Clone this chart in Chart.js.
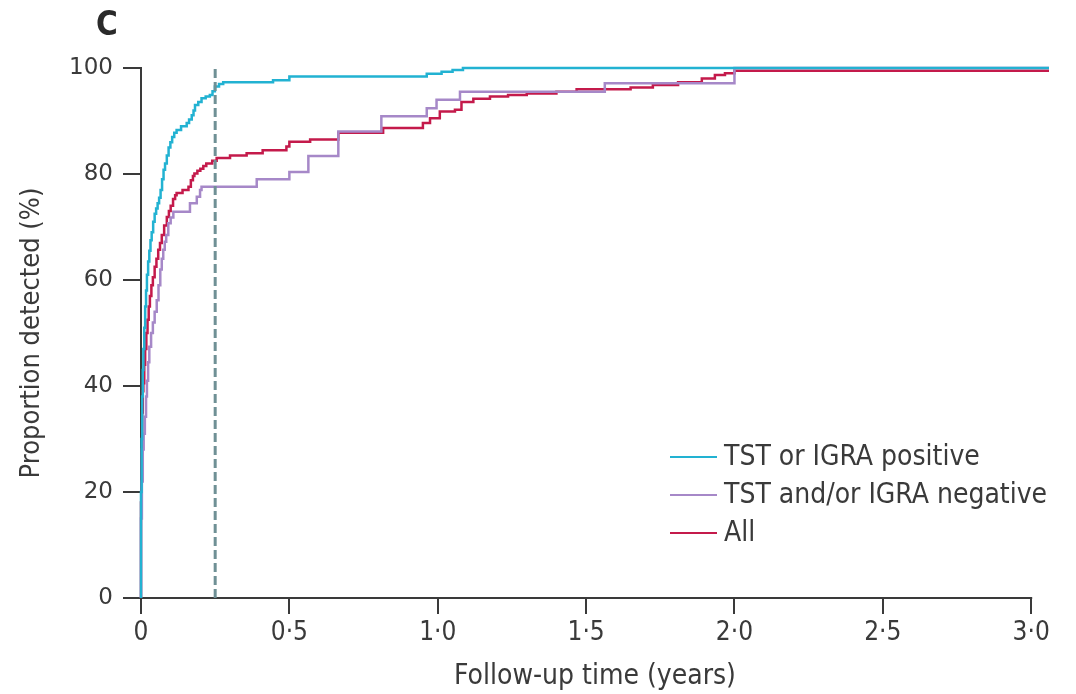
<!DOCTYPE html>
<html>
<head>
<meta charset="utf-8">
<script src="https://cdn.jsdelivr.net/npm/chart.js@4.4.1/dist/chart.umd.min.js"></script>
<style>
    html, body { margin: 0; padding: 0; background: #fff; }
    canvas { display: block; }
</style>
</head>
<body>
<canvas id="detection-chart" width="1076" height="694"></canvas>
<script>
// Cumulative proportion of cases detected over follow-up
const seriesLabels = ['TST or IGRA positive', 'TST and/or IGRA negative', 'All'];
const seriesColors = ['#22b2d2', '#a688c8', '#c41a4b'];

const positiveTimes  = [0, 0, 0.002, 0.004, 0.006, 0.008, 0.011, 0.014, 0.017, 0.020, 0.024, 0.028, 0.032, 0.036, 0.041, 0.046, 0.051, 0.056, 0.061, 0.066, 0.071, 0.076, 0.081, 0.087, 0.093, 0.099, 0.105, 0.112, 0.120, 0.135, 0.154, 0.162, 0.171, 0.177, 0.182, 0.193, 0.204, 0.218, 0.232, 0.241, 0.249, 0.263, 0.277, 0.445, 0.500, 0.963, 1.013, 1.050, 1.085, 3.060];
const positiveValues = [0, 20, 30, 38, 43, 47, 51, 55, 58, 61, 63.5, 65.5, 67.5, 69, 71, 72.5, 73.5, 74.5, 75.5, 77, 79, 80.8, 82, 83.5, 85, 86, 87, 87.8, 88.3, 89, 89.6, 90.3, 91.1, 92, 93, 93.6, 94.3, 94.6, 94.9, 95.6, 96.5, 97, 97.3, 97.7, 98.4, 98.9, 99.3, 99.6, 100, 100];

const negativeTimes  = [0, 0, 0.003, 0.006, 0.009, 0.013, 0.017, 0.020, 0.024, 0.028, 0.034, 0.040, 0.046, 0.053, 0.059, 0.065, 0.070, 0.075, 0.080, 0.085, 0.092, 0.100, 0.109, 0.165, 0.188, 0.199, 0.204, 0.390, 0.500, 0.564, 0.665, 0.810, 0.963, 0.996, 1.075, 1.563, 2.000, 3.060];
const negativeValues = [0, 15, 22, 28, 31, 34.2, 38, 41, 44.5, 47.4, 50, 52, 54, 56.2, 59, 62, 64, 65.7, 67.2, 68.5, 70.7, 71.8, 72.9, 74.5, 75.7, 77, 77.6, 79, 80.4, 83.4, 88, 90.9, 92.4, 94, 95.5, 97.1, 100, 100];

const allTimes  = [0, 0, 0.002, 0.004, 0.006, 0.008, 0.011, 0.014, 0.018, 0.022, 0.026, 0.030, 0.035, 0.040, 0.046, 0.052, 0.058, 0.064, 0.070, 0.078, 0.087, 0.094, 0.100, 0.108, 0.115, 0.120, 0.140, 0.160, 0.168, 0.175, 0.180, 0.190, 0.200, 0.210, 0.220, 0.240, 0.255, 0.300, 0.356, 0.410, 0.490, 0.500, 0.570, 0.665, 0.816, 0.950, 0.974, 1.007, 1.058, 1.080, 1.120, 1.176, 1.237, 1.300, 1.400, 1.468, 1.650, 1.725, 1.810, 1.890, 1.934, 1.968, 2.000, 3.060];
const allValues = [0, 18, 28, 35, 39, 40.5, 44, 47, 50, 52.5, 55, 57, 59, 60.5, 62.5, 64, 65.7, 67, 68.5, 70.3, 71.9, 73, 74, 75.3, 76, 76.4, 77, 77.6, 78.8, 79.6, 80.1, 80.6, 81, 81.5, 82, 82.5, 83, 83.5, 83.9, 84.5, 85.2, 86.1, 86.5, 87.8, 88.7, 89.6, 90.5, 91.8, 92.1, 93.6, 94.2, 94.6, 94.9, 95.2, 95.5, 96, 96.3, 96.8, 97.3, 98, 98.7, 99, 99.5, 99.5];

// 3-month mark (dashed reference line)
const cutoffTime = 0.25;
const cutoffRange = [0, 100];

const xTickValues = [0, 0.5, 1, 1.5, 2, 2.5, 3];
const xTickLabels = ['0', '0·5', '1·0', '1·5', '2·0', '2·5', '3·0'];
const yTickValues = [0, 20, 40, 60, 80, 100];
const yTickLabels = ['0', '20', '40', '60', '80', '100'];
const xMax = 3.06;

const axisColor = '#3a3a3a';
const textColor = '#3a3a3a';
const condensed = '"DejaVu Sans Condensed", "DejaVu Sans", sans-serif';

function toPoints(times, values) {
    return times.map((t, i) => ({ x: t, y: values[i] }));
}

function curve(label, color, times, values) {
    return {
        label: label,
        data: toPoints(times, values),
        borderColor: color,
        backgroundColor: color,
        borderWidth: 2.5,
        stepped: 'before',
        pointRadius: 0,
        clip: false,
        inLegend: true
    };
}

// x axis line only runs from 0 to 3·0, not to the end of the curves
const xAxisLine = {
    id: 'xAxisLine',
    beforeDatasetsDraw(chart) {
        const x = chart.scales.x, y = chart.scales.y;
        const ctx = chart.ctx;
        ctx.save();
        ctx.strokeStyle = axisColor;
        ctx.lineWidth = 2;
        ctx.beginPath();
        ctx.moveTo(x.getPixelForValue(0) - 1, y.getPixelForValue(0));
        ctx.lineTo(x.getPixelForValue(xTickValues[xTickValues.length - 1]) + 1, y.getPixelForValue(0));
        ctx.stroke();
        ctx.restore();
    }
};

// Legend inside the plot, bottom right
const insideLegend = {
    id: 'insideLegend',
    afterDraw(chart) {
        const ctx = chart.ctx;
        const items = chart.data.datasets.filter(d => d.inLegend);
        ctx.save();
        ctx.font = '28px ' + condensed;
        ctx.textBaseline = 'middle';
        ctx.textAlign = 'left';
        items.forEach((d, i) => {
            const yy = 457 + i * 38;
            ctx.strokeStyle = d.borderColor;
            ctx.lineWidth = 2;
            ctx.beginPath();
            ctx.moveTo(670, yy);
            ctx.lineTo(717, yy);
            ctx.stroke();
            ctx.fillStyle = textColor;
            ctx.fillText(d.label, 724, yy + 1);
        });
        // panel letter
        ctx.font = 'bold 33px ' + condensed;
        ctx.fillStyle = '#2a2a2a';
        ctx.textBaseline = 'alphabetic';
        ctx.fillText('C', 96, 35);
        ctx.restore();
    }
};

const ctx = document.getElementById('detection-chart').getContext('2d');

new Chart(ctx, {
    type: 'line',
    data: {
        datasets: [
            {
                label: 'cutoff',
                data: cutoffRange.map(v => ({ x: cutoffTime, y: v })),
                borderColor: '#6f9095',
                borderWidth: 3,
                borderDash: [9, 4],
                pointRadius: 0,
                clip: false
            },
            curve(seriesLabels[0], seriesColors[0], positiveTimes, positiveValues),
            curve(seriesLabels[1], seriesColors[1], negativeTimes, negativeValues),
            curve(seriesLabels[2], seriesColors[2], allTimes, allValues)
        ]
    },
    options: {
        responsive: false,
        animation: false,
        devicePixelRatio: 1,
        layout: {
            padding: { top: 68, right: 27, bottom: 0, left: 0 }
        },
        plugins: {
            legend: { display: false },
            tooltip: { enabled: false }
        },
        scales: {
            x: {
                type: 'linear',
                min: 0,
                max: xMax,
                afterBuildTicks: scale => {
                    scale.ticks = xTickValues.map(v => ({ value: v }));
                },
                afterFit: scale => {
                    scale.height = 96;
                },
                border: { display: false },
                grid: {
                    drawOnChartArea: false,
                    drawTicks: true,
                    tickLength: 16,
                    lineWidth: 2,
                    color: axisColor
                },
                ticks: {
                    autoSkip: false,
                    maxRotation: 0,
                    padding: 4,
                    color: textColor,
                    font: { family: condensed, size: 26 },
                    callback: value => xTickLabels[xTickValues.indexOf(value)]
                },
                title: {
                    display: true,
                    text: 'Follow-up time (years)',
                    color: textColor,
                    font: { family: condensed, size: 28 },
                    padding: { top: 0, bottom: 0 }
                }
            },
            y: {
                min: 0,
                max: 100,
                afterBuildTicks: scale => {
                    scale.ticks = yTickValues.map(v => ({ value: v }));
                },
                afterFit: scale => {
                    scale.width = 141;
                },
                border: { display: true, color: axisColor, width: 2 },
                grid: {
                    drawOnChartArea: false,
                    drawTicks: true,
                    tickLength: 18,
                    lineWidth: 2,
                    color: axisColor
                },
                ticks: {
                    padding: 10,
                    color: textColor,
                    font: { family: '"DejaVu Sans", sans-serif', size: 23 },
                    callback: value => yTickLabels[yTickValues.indexOf(value)]
                },
                title: {
                    display: true,
                    text: 'Proportion detected (%)',
                    color: textColor,
                    font: { family: condensed, size: 27 },
                    padding: { top: 16, bottom: 0 }
                }
            }
        }
    },
    plugins: [xAxisLine, insideLegend]
});
</script>
</body>
</html>
